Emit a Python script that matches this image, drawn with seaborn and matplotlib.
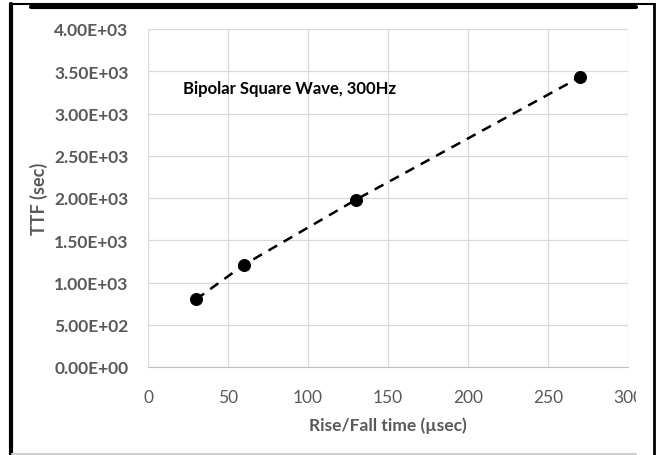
import matplotlib
matplotlib.use('Agg')
import matplotlib.pyplot as plt
import matplotlib.ticker as mticker
from matplotlib.lines import Line2D
from matplotlib.patches import Rectangle
import pandas as pd
import seaborn as sns

# data
rise_fall = [30, 60, 130, 270]
ttf = [800, 1210, 1980, 3430]
x_ticks = [0, 50, 100, 150, 200, 250, 300]
y_ticks = [0, 500, 1000, 1500, 2000, 2500, 3000, 3500, 4000]

df = pd.DataFrame({'rise_fall': rise_fall, 'ttf': ttf})

sns.set_style('white')
plt.rcParams['font.family'] = ['Lato', 'DejaVu Sans']

fig = plt.figure(figsize=(6.57, 4.56), dpi=100)
ax = fig.add_axes([148 / 657, 1 - 368 / 456, 480 / 657, 338 / 456])

sns.lineplot(data=df, x='rise_fall', y='ttf', ax=ax, color='black',
             linestyle=(0, (4, 3)), linewidth=1.8)
sns.scatterplot(data=df, x='rise_fall', y='ttf', ax=ax, color='black',
                s=75, edgecolor='black', zorder=3)

ax.set_xlim(0, 300)
ax.set_ylim(0, 4000)
ax.set_xticks(x_ticks)
ax.set_yticks(y_ticks)
ax.yaxis.set_major_formatter(mticker.FuncFormatter(lambda v, p: f'{v:.2E}'))
ax.grid(True, color='#d9d9d9', linewidth=0.9)
ax.set_axisbelow(True)
for side in ['top', 'right', 'left']:
    ax.spines[side].set_visible(False)
ax.spines['bottom'].set_color('#c0c0c0')
ax.tick_params(axis='both', length=0, colors='#595959', labelsize=12.5)
ax.tick_params(axis='x', pad=16)
ax.tick_params(axis='y', pad=14)
for lab in ax.get_yticklabels():
    lab.set_fontweight('bold')

ax.set_xlabel('Rise/Fall time (µsec)', fontsize=12.5, fontweight='bold',
              color='#595959', labelpad=8)
ax.set_ylabel('TTF (sec)', fontsize=13, fontweight='bold',
              color='#595959', labelpad=4)

ax.text(183 / 657, 1 - 89 / 456, 'Bipolar Square Wave, 300Hz',
        transform=fig.transFigure, fontsize=12, fontweight='bold',
        color='black', va='center', ha='left')

# cropped screenshot frame
fig.patches.append(Rectangle((636 / 657, 0), 18 / 657, 448 / 456,
                             transform=fig.transFigure, facecolor='white',
                             edgecolor='none', zorder=5))
frame = [
    ((11, 11), (0, 451), 3.0, 'black'),
    ((11, 655), (451, 451), 1.5, 'black'),
    ((31, 636), (448, 448), 3.0, 'black'),
    ((654, 654), (0, 451), 2.0, 'black'),
    ((12, 636), (1, 1), 1.5, '#d0d0d0'),
]
for xs, ys, lw, c in frame:
    fig.lines.append(Line2D([x / 657 for x in xs], [y / 456 for y in ys],
                            transform=fig.transFigure, linewidth=lw,
                            color=c, zorder=6))

fig.savefig('out.png', dpi=100)
